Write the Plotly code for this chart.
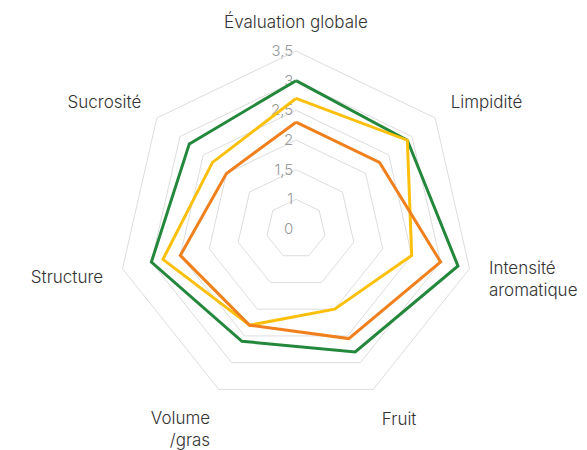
import plotly.graph_objects as go

# Tasting criteria (clockwise from the top)
criteres = [
    "Évaluation globale",
    "Limpidité",
    "Intensité<br>aromatique",
    "Fruit",
    "Volume<br>/gras",
    "Structure",
    "Sucrosité",
]

# Scores per wine
vin_vert = [3.0, 2.9, 3.3, 2.8, 2.6, 3.0, 2.8]
vin_orange = [2.3, 2.3, 3.0, 2.55, 2.3, 2.5, 2.0]
vin_jaune = [2.7, 2.9, 2.5, 2.0, 2.3, 2.8, 2.3]

# Radial scale ticks
graduations = [0.5, 1, 1.5, 2, 2.5, 3, 3.5]
graduations_texte = ["0", "1", "1,5", "2", "2,5", "3", "3,5"]

series = [
    (vin_vert, "#23873c"),
    (vin_jaune, "#fcc00c"),
    (vin_orange, "#f0801e"),
]

POLICE = "Inter"

fig = go.Figure()
for valeurs, couleur in series:
    fig.add_trace(
        go.Scatterpolar(
            r=valeurs + valeurs[:1],
            theta=criteres + criteres[:1],
            mode="lines",
            line=dict(color=couleur, width=3),
            hoverinfo="skip",
            showlegend=False,
        )
    )

fig.update_layout(
    width=587,
    height=450,
    paper_bgcolor="white",
    plot_bgcolor="white",
    margin=dict(l=5, r=0, t=51, b=43),
    font=dict(family=POLICE, color="#333333"),
    polar=dict(
        bgcolor="white",
        gridshape="linear",
        angularaxis=dict(
            direction="clockwise",
            rotation=90,
            showgrid=False,
            showline=True,
            linecolor="#dddddd",
            linewidth=1,
            ticks="outside",
            ticklen=16,
            tickcolor="rgba(0,0,0,0)",
            tickfont=dict(size=17, color="#333333", family=POLICE, weight=300),
        ),
        radialaxis=dict(
            range=[0.5, 3.5],
            tickvals=graduations,
            ticktext=graduations_texte,
            angle=90,
            side="counterclockwise",
            tickangle=90,
            showline=False,
            ticks="",
            gridcolor="#dddddd",
            gridwidth=1,
            tickfont=dict(size=15, color="#999999", family=POLICE, weight=300),
            layer="below traces",
        ),
    ),
)

fig.write_html("out.html")
